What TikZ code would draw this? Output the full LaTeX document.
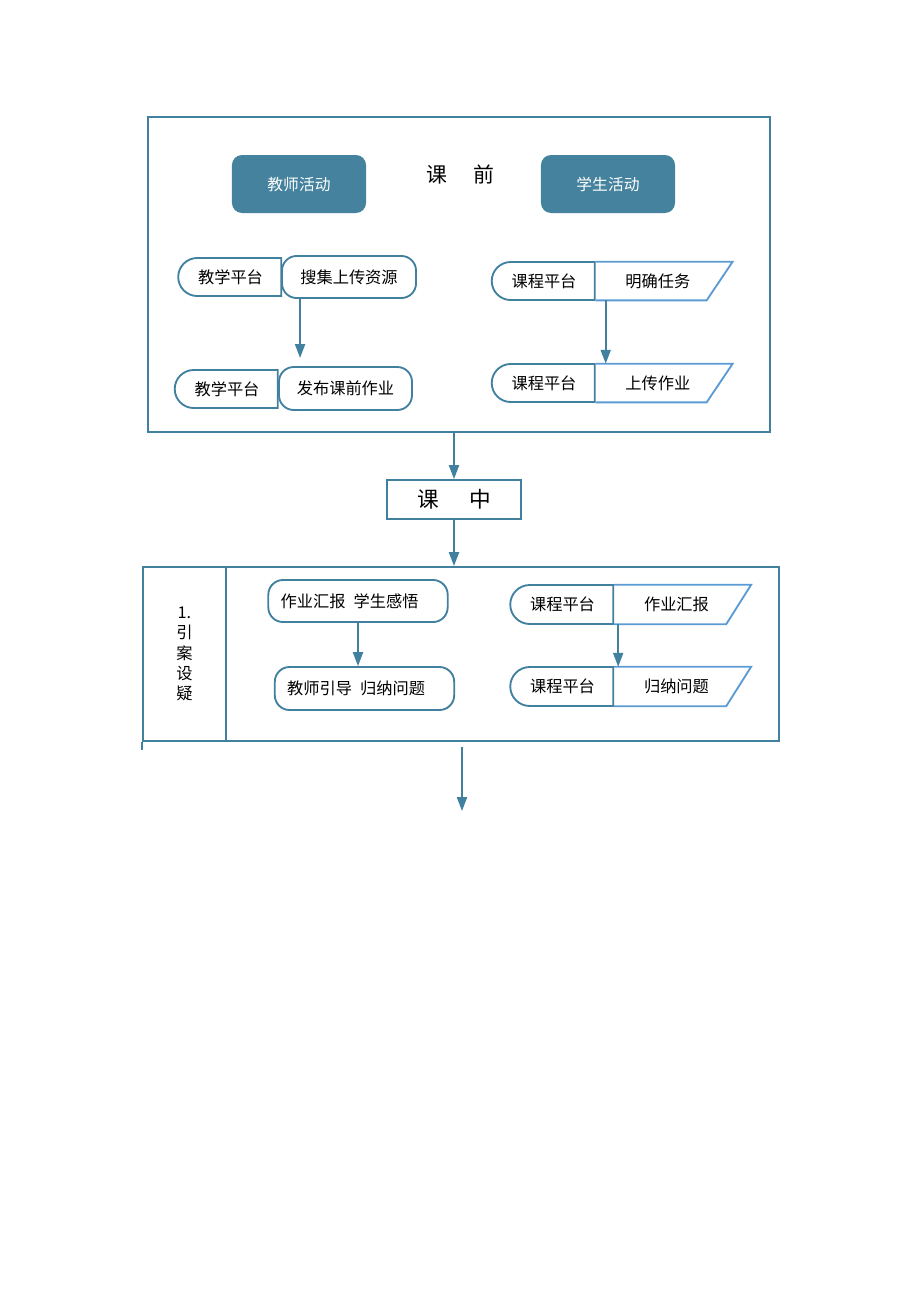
\documentclass[tikz,border=0pt]{standalone}
\usepackage{fontspec}
\setmainfont{Noto Sans CJK SC}
\usetikzlibrary{arrows.meta,positioning,calc,shapes.misc}

\definecolor{flowblue}{HTML}{41809F}
\definecolor{slantblue}{HTML}{5B9BD5}
\definecolor{headfill}{HTML}{44829E}

\tikzset{
  line/.style={draw=flowblue, line width=1.2pt},
  arr/.style={flowblue, line width=1.2pt, -{Triangle[length=9pt,width=6.5pt]}},
  frame/.style={line, inner sep=0pt},
  head/.style={fill=headfill, rounded corners=6.5pt, minimum width=86.7pt, minimum height=37.5pt, text=white,
               font=\fontsize{10.2}{12}\selectfont, text depth=-2pt},
  platform/.style={line, rounded rectangle, rounded rectangle east arc=none, minimum width=66.6pt, minimum height=24.6pt, inner sep=0pt},
  job/.style={line, rounded corners=9.5pt, minimum height=27.2pt, inner sep=0pt},
  jobleft/.style={line, rounded corners=9.5pt, minimum height=27.2pt, inner ysep=0pt, inner xsep=8pt, text width=100pt, align=left},
  slantbox/.style={minimum width=80.2pt, minimum height=24.6pt, inner sep=0pt, anchor=west},
  slantline/.style={draw=slantblue, line width=1.2pt},
  every node/.style={font=\fontsize{10.5}{12}\selectfont}
}

\begin{document}
\begin{tikzpicture}[x=0.6467pt, y=-0.6467pt]
  \useasboundingbox (0,0) rectangle (920,1302);

  % before class
  \node[frame, minimum width=402.2pt, minimum height=203.7pt] (pre) at (459,274.5) {};
  \node[head] (teacher) at (299,184) {教师活动};
  \node[head] (student) at (608,184) {学生活动};
  \node[font=\fontsize{13.5}{15}\selectfont] (pretitle) at (460,174) {课\hspace{1.25em}前};

  \node[platform] (tpA) at (230.5,277) {教学平台};
  \node[job, minimum width=86.7pt] (resA) at (349,277) {搜集上传资源};
  \node[platform] (tpB) at (227,389) {教学平台};
  \node[job, minimum width=86pt, minimum height=27.8pt] (pubB) at (345.5,388.5) {发布课前作业};
  \draw[arr] ([xshift=12.3pt]resA.south west) -- +(0,59);

  \node[platform] (cpA) at (544,281) {课程平台};
  \node[slantbox] (taskA) at (cpA.east) {明确任务};
  \draw[slantline] (taskA.north west) -- ++(137,0) -- ($(taskA.south west)+(111,0)$) -- (taskA.south west);
  \node[platform] (cpB) at (544,383) {课程平台};
  \node[slantbox] (taskB) at (cpB.east) {上传作业};
  \draw[slantline] (taskB.north west) -- ++(137,0) -- ($(taskB.south west)+(111,0)$) -- (taskB.south west);
  \draw[arr] ([xshift=6.5pt]taskA.south west) -- ([xshift=6.5pt]taskB.north west);

  % in class
  \node[frame, minimum width=86.7pt, minimum height=25.2pt, font=\fontsize{14}{16}\selectfont] (mid) at (454,499.5) {课\hspace{1.4em}中};
  \draw[arr] (pre.south -| mid) -- (mid);

  \node[frame, minimum width=53.7pt, minimum height=112.5pt, anchor=north west, align=center,
        font=\fontsize{10.5}{13}\selectfont] (stage) at (142,566) {1.\\引\\案\\设\\疑};
  \node[frame, minimum width=357.6pt, minimum height=112.5pt, anchor=north west] (rest) at (225,566) {};
  \draw[line] (stage.south west) -- +(0,8);
  \draw[arr] (mid) -- (mid.south |- rest.north);

  \node[jobleft] (rep) at (358,601) {作业汇报\hspace{0.5em}学生感悟};
  \node[jobleft, minimum height=27.8pt] (guide) at (364.5,688.5) {教师引导\hspace{0.5em}归纳问题};
  \draw[arr] (rep) -- (rep.south |- guide.north);

  \node[platform, minimum height=25.2pt] (cpC) at (562.5,604.5) {课程平台};
  \node[slantbox, minimum height=25.2pt] (repC) at (cpC.east) {作业汇报};
  \draw[slantline] (repC.north west) -- ++(137,0) -- ($(repC.south west)+(112,0)$) -- (repC.south west);
  \node[platform, minimum height=25.2pt] (cpD) at (562.5,686.5) {课程平台};
  \node[slantbox, minimum height=25.2pt] (sumD) at (cpD.east) {归纳问题};
  \draw[slantline] (sumD.north west) -- ++(137,0) -- ($(sumD.south west)+(112,0)$) -- (sumD.south west);
  \draw[arr] ([xshift=2.6pt]repC.south west) -- ([xshift=2.6pt]sumD.north west);

  \coordinate (out) at (462,747);
  \coordinate (nxt) at (462,811);
  \draw[arr] (out) -- (nxt);
\end{tikzpicture}
\end{document}
